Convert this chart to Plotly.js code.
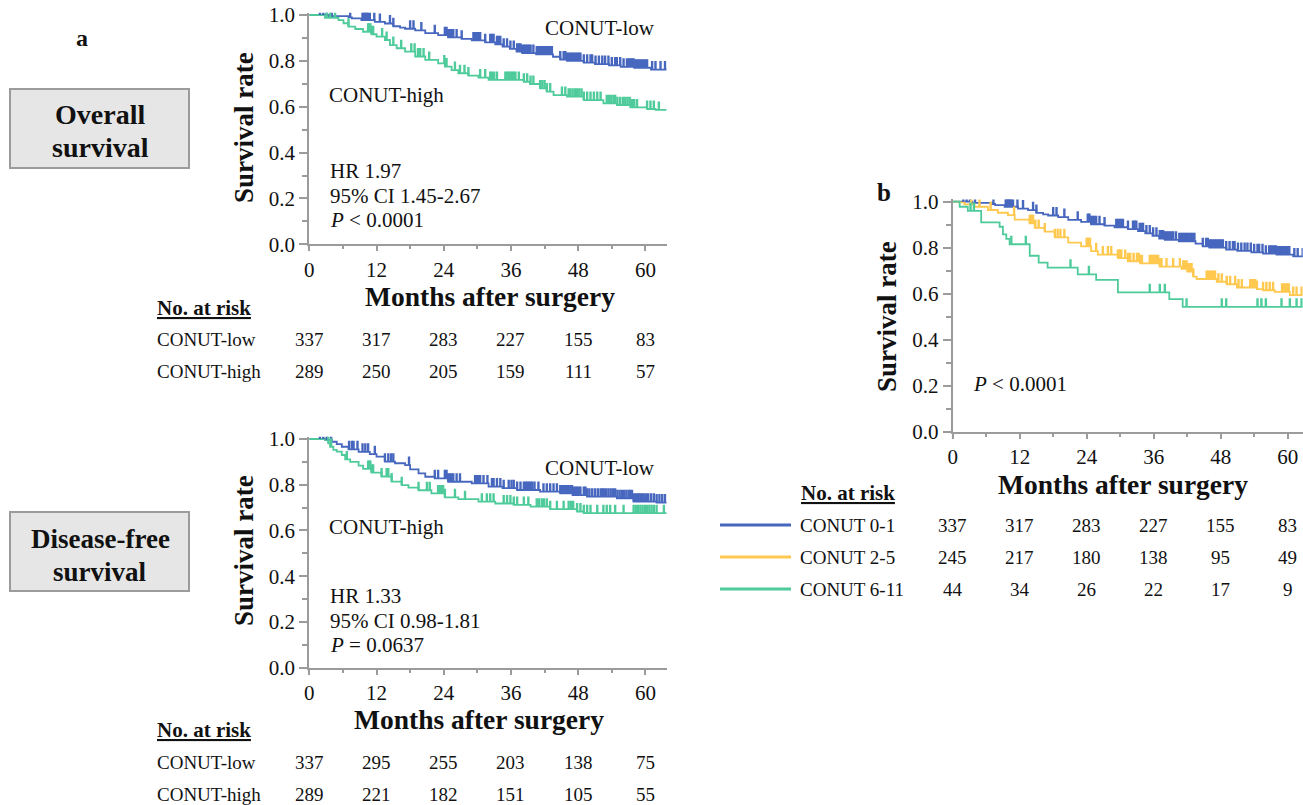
<!DOCTYPE html>
<html>
<head>
<meta charset="utf-8">
<script src="https://cdn.plot.ly/plotly-3.0.1.min.js"></script>
<style>html,body{margin:0;padding:0;background:#fff}#chart{width:1303px;height:805px}</style>
</head>
<body>
<div id="chart"></div>
<script>
// ---------------- DATA ----------------
const months = [0, 12, 24, 36, 48, 60];

// Overall survival, CONUT-low (also CONUT 0-1 in panel b)
const osLowT = [0, 3.5, 7.0, 7.6, 9.3, 11.7, 13.5, 15.0, 16.2, 17.1, 18.9, 20.7, 23.0, 24.8, 27.2, 29.0, 31.4, 33.2, 34.5, 35.8, 37.0, 38.0, 40.5, 43.5, 44.8, 46.0, 49.0, 51.0, 53.5, 55.6, 58.0, 61.0, 63.8];
const osLowS = [1.0, 0.995, 0.99, 0.985, 0.978, 0.97, 0.963, 0.951, 0.945, 0.94, 0.933, 0.921, 0.912, 0.902, 0.896, 0.889, 0.881, 0.872, 0.862, 0.852, 0.84, 0.834, 0.828, 0.818, 0.806, 0.80, 0.792, 0.786, 0.78, 0.774, 0.77, 0.762, 0.762];
const osLowCens = [1.9, 2.5, 3.1, 4.0, 7.3, 9.5, 9.7, 9.9, 10.1, 10.3, 10.5, 10.8, 11.6, 12.6, 14.4, 15.0, 18.0, 18.6, 20.0, 22.4, 24.2, 24.5, 24.8, 25.1, 25.4, 25.7, 26.3, 27.2, 29.3, 29.6, 29.9, 30.2, 30.5, 31.4, 32.3, 32.6, 32.9, 33.5, 33.8, 34.1, 34.7, 35.3, 35.9, 36.5, 37.1, 37.4, 37.7, 38.0, 38.3, 38.6, 38.9, 39.2, 39.5, 40.0, 40.6, 40.9, 41.2, 41.5, 41.8, 42.1, 42.4, 42.7, 43.0, 43.3, 44.8, 45.4, 45.7, 46.0, 46.3, 46.6, 46.9, 47.2, 47.5, 47.8, 48.1, 48.4, 49.0, 49.6, 50.2, 50.5, 51.1, 51.7, 52.3, 52.8, 53.4, 54.0, 54.6, 54.9, 55.5, 56.1, 56.7, 57.0, 57.3, 57.6, 57.9, 58.2, 58.5, 58.8, 59.1, 59.4, 59.7, 60.0, 60.3, 61.2, 61.8, 62.7, 63.5];

// Overall survival, CONUT-high
const osHighT = [0, 2.8, 5.2, 6.1, 7.0, 8.2, 9.6, 11.1, 12.0, 13.5, 14.4, 15.6, 17.1, 18.9, 20.7, 23.0, 24.2, 25.4, 26.6, 28.4, 30.2, 32.0, 38.3, 39.4, 41.2, 42.4, 43.6, 46.0, 49.0, 52.5, 54.9, 57.3, 60.3, 61.8, 63.8];
const osHighS = [1.0, 0.988, 0.978, 0.964, 0.949, 0.939, 0.927, 0.916, 0.906, 0.891, 0.869, 0.855, 0.84, 0.819, 0.804, 0.789, 0.775, 0.76, 0.746, 0.736, 0.727, 0.717, 0.709, 0.699, 0.68, 0.666, 0.651, 0.644, 0.629, 0.615, 0.607, 0.597, 0.59, 0.586, 0.586];
const osHighCens = [3.1, 3.7, 4.6, 7.0, 10.5, 10.7, 10.9, 11.1, 11.4, 13.0, 13.8, 15.0, 16.4, 18.2, 18.8, 19.4, 19.8, 20.4, 21.4, 24.1, 24.3, 24.5, 26.0, 26.9, 27.7, 28.4, 30.5, 31.4, 32.3, 32.6, 33.0, 33.5, 35.0, 35.3, 35.6, 35.9, 36.2, 36.5, 36.8, 37.4, 38.3, 38.9, 39.5, 40.0, 41.2, 41.6, 42.0, 42.4, 43.0, 45.1, 45.7, 46.3, 46.6, 47.0, 47.4, 47.8, 48.2, 48.6, 49.0, 49.6, 50.2, 50.8, 51.4, 52.0, 53.1, 53.5, 53.9, 54.3, 54.6, 55.0, 55.5, 56.0, 56.4, 56.8, 57.2, 57.6, 58.0, 58.5, 60.3, 60.9, 61.5, 62.4];

// Disease-free survival, CONUT-low
const dfsLowT = [0, 2.8, 4.0, 4.9, 5.8, 7.0, 8.8, 10.8, 12.0, 13.5, 15.3, 17.1, 18.0, 19.5, 20.7, 22.4, 24.8, 29.0, 32.0, 34.5, 37.1, 41.2, 44.8, 47.0, 49.6, 54.9, 57.9, 62.0, 63.8];
const dfsLowS = [1.0, 0.996, 0.988, 0.978, 0.966, 0.955, 0.944, 0.934, 0.923, 0.901, 0.894, 0.886, 0.867, 0.85, 0.835, 0.828, 0.813, 0.806, 0.792, 0.785, 0.777, 0.77, 0.762, 0.755, 0.748, 0.741, 0.726, 0.722, 0.722];
const dfsLowCens = [1.9, 2.5, 3.1, 3.9, 7.1, 7.6, 7.9, 8.6, 9.5, 10.0, 10.5, 11.7, 13.5, 14.1, 14.6, 15.0, 17.8, 22.4, 23.0, 24.2, 24.5, 24.8, 25.1, 25.4, 25.7, 26.3, 26.9, 29.6, 29.9, 30.2, 30.5, 31.1, 31.8, 32.6, 32.9, 33.5, 34.1, 34.7, 35.6, 36.1, 36.5, 37.1, 37.7, 38.3, 38.6, 38.9, 39.2, 39.5, 39.8, 40.2, 40.9, 41.8, 42.4, 43.0, 43.6, 44.2, 44.8, 45.1, 45.4, 45.7, 46.0, 46.3, 46.6, 46.9, 47.2, 47.5, 47.8, 48.1, 48.4, 49.0, 49.3, 49.6, 50.0, 50.5, 51.0, 51.5, 52.0, 52.3, 52.6, 53.0, 53.4, 53.8, 54.2, 54.6, 55.0, 55.4, 55.8, 56.2, 56.6, 57.0, 57.3, 57.6, 57.9, 58.2, 58.5, 58.8, 59.1, 59.4, 59.7, 60.1, 60.5, 61.0, 61.5, 62.0, 62.5, 63.0, 63.5];

// Disease-free survival, CONUT-high
const dfsHighT = [0, 2.8, 3.4, 3.7, 4.3, 4.9, 5.8, 6.4, 7.3, 8.8, 9.6, 11.1, 12.9, 14.7, 16.5, 17.7, 19.5, 21.8, 24.2, 26.6, 30.2, 33.2, 36.5, 39.5, 43.0, 47.8, 49.0, 63.8];
const dfsHighS = [1.0, 0.996, 0.981, 0.966, 0.952, 0.945, 0.93, 0.911, 0.90, 0.884, 0.869, 0.853, 0.836, 0.814, 0.798, 0.787, 0.776, 0.762, 0.745, 0.737, 0.726, 0.718, 0.712, 0.704, 0.693, 0.683, 0.676, 0.676];
const dfsHighCens = [3.4, 3.9, 6.7, 10.5, 10.7, 10.9, 11.1, 11.4, 12.9, 13.8, 14.1, 14.7, 16.5, 19.5, 21.0, 21.5, 23.0, 23.3, 23.6, 23.9, 24.2, 26.0, 27.8, 30.8, 31.7, 32.3, 32.9, 34.7, 35.3, 35.9, 36.5, 37.1, 38.3, 39.1, 40.6, 41.0, 41.5, 41.9, 42.4, 43.0, 44.2, 45.4, 46.3, 46.7, 47.1, 47.8, 48.4, 49.0, 49.6, 50.2, 51.4, 52.5, 53.1, 53.7, 54.6, 56.1, 57.9, 58.3, 58.7, 59.1, 59.5, 59.9, 60.3, 60.7, 61.1, 61.5, 62.0, 63.3];

// Panel b, CONUT 2-5
const b25T = [0, 1.0, 2.1, 3.9, 6.3, 8.1, 9.9, 11.1, 13.8, 14.7, 16.5, 18.3, 20.7, 23.0, 24.8, 26.0, 29.6, 31.4, 33.6, 37.1, 41.0, 42.0, 43.1, 43.7, 47.3, 49.1, 50.9, 54.5, 55.6, 57.7, 60.4, 62.7];
const b25S = [1.0, 0.997, 0.988, 0.978, 0.964, 0.952, 0.942, 0.922, 0.906, 0.886, 0.87, 0.845, 0.822, 0.806, 0.785, 0.77, 0.755, 0.741, 0.732, 0.718, 0.708, 0.696, 0.674, 0.664, 0.652, 0.641, 0.627, 0.62, 0.615, 0.608, 0.594, 0.594];
const b25Cens = [3.3, 4.8, 6.8, 11.0, 13.8, 14.0, 14.2, 14.4, 14.8, 15.4, 16.5, 18.3, 18.8, 19.3, 20.0, 24.0, 24.2, 24.4, 24.6, 25.7, 26.9, 27.8, 28.4, 29.6, 29.8, 30.0, 30.2, 30.9, 31.4, 31.8, 32.4, 33.0, 33.3, 33.6, 33.9, 35.3, 35.6, 35.9, 36.2, 36.5, 36.8, 37.1, 37.4, 38.3, 39.5, 40.7, 41.3, 41.6, 41.9, 42.2, 42.5, 42.8, 43.1, 45.5, 45.8, 46.1, 46.4, 46.7, 47.0, 47.6, 48.2, 49.1, 49.7, 50.6, 51.2, 51.8, 53.3, 53.6, 53.9, 54.2, 54.5, 55.6, 56.2, 56.8, 57.4, 59.0, 59.3, 59.6, 59.9, 60.2, 61.0, 61.6, 62.5];

// Panel b, CONUT 6-11
const b611T = [0, 1.25, 2.7, 5.1, 8.4, 9.0, 9.6, 10.2, 13.8, 15.4, 17.0, 22.4, 25.7, 29.6, 38.8, 41.2, 62.7];
const b611S = [1.0, 0.978, 0.96, 0.91, 0.891, 0.858, 0.838, 0.815, 0.765, 0.735, 0.713, 0.684, 0.66, 0.606, 0.576, 0.543, 0.543];
const b611Cens = [3.2, 3.8, 10.5, 13.1, 21.1, 24.4, 35.3, 37.1, 38.0, 41.9, 48.2, 49.0, 54.6, 55.3, 56.1, 58.9, 60.4, 61.6, 62.5];

// Numbers at risk
const osRiskLow = [337, 317, 283, 227, 155, 83];
const osRiskHigh = [289, 250, 205, 159, 111, 57];
const dfsRiskLow = [337, 295, 255, 203, 138, 75];
const dfsRiskHigh = [289, 221, 182, 151, 105, 55];
const bRisk01 = [337, 317, 283, 227, 155, 83];
const bRisk25 = [245, 217, 180, 138, 95, 49];
const bRisk611 = [44, 34, 26, 22, 17, 9];

const groupsA = ['CONUT-low', 'CONUT-high'];
const groupsB = ['CONUT 0-1', 'CONUT 2-5', 'CONUT 6-11'];

// ---------------- STYLE / LAYOUT ----------------
const W = 1303, H = 805;
const SERIF = 'Liberation Serif, Times New Roman, serif';
const BLUE = '#4767BF', GREEN = '#4FCB9B', YELLOW = '#FFC84F';
const AX = '#9b9b9b', TXT = '#111111';
const px = x => x / W;
const py = y => 1 - y / H;

function stepAt(T, S, t) {
  let v = S[0];
  for (let i = 0; i < T.length; i++) { if (T[i] <= t) v = S[i]; else break; }
  return v;
}

function curve(T, S, color, xa, ya, name) {
  return {type: 'scatter', mode: 'lines', x: T, y: S, xaxis: xa, yaxis: ya, name: name,
    line: {shape: 'hv', color: color, width: 1.8}, hoverinfo: 'skip', showlegend: false};
}
function censors(T, S, C, color, xa, ya, name) {
  return {type: 'scatter', mode: 'markers', x: C, y: C.map(t => stepAt(T, S, t)), xaxis: xa, yaxis: ya, name: name,
    marker: {size: 1, color: color, opacity: 0},
    error_y: {type: 'constant', symmetric: false, value: 0.037, valueminus: 0, width: 0, thickness: 2.4, color: color},
    hoverinfo: 'skip', showlegend: false};
}

const traces = [
  curve(osLowT, osLowS, BLUE, 'x', 'y', groupsA[0]),
  curve(osHighT, osHighS, GREEN, 'x', 'y', groupsA[1]),
  censors(osLowT, osLowS, osLowCens, BLUE, 'x', 'y', groupsA[0]),
  censors(osHighT, osHighS, osHighCens, GREEN, 'x', 'y', groupsA[1]),
  curve(dfsLowT, dfsLowS, BLUE, 'x2', 'y2', groupsA[0]),
  curve(dfsHighT, dfsHighS, GREEN, 'x2', 'y2', groupsA[1]),
  censors(dfsLowT, dfsLowS, dfsLowCens, BLUE, 'x2', 'y2', groupsA[0]),
  censors(dfsHighT, dfsHighS, dfsHighCens, GREEN, 'x2', 'y2', groupsA[1]),
  curve(osLowT, osLowS, BLUE, 'x3', 'y3', groupsB[0]),
  curve(b25T, b25S, YELLOW, 'x3', 'y3', groupsB[1]),
  curve(b611T, b611S, GREEN, 'x3', 'y3', groupsB[2]),
  censors(osLowT, osLowS, osLowCens, BLUE, 'x3', 'y3', groupsB[0]),
  censors(b25T, b25S, b25Cens, YELLOW, 'x3', 'y3', groupsB[1]),
  censors(b611T, b611S, b611Cens, GREEN, 'x3', 'y3', groupsB[2])
];

const tickFont = {family: SERIF, size: 21, color: TXT};
function xAxis(left, right, xmax, anchor) {
  return {domain: [px(left), px(right)], range: [0, xmax], anchor: anchor,
    showline: true, linecolor: AX, linewidth: 2, ticks: 'outside', ticklen: 5, tickwidth: 2, tickcolor: AX,
    tick0: 0, dtick: 12, minor: {dtick: 6, ticks: 'outside', ticklen: 3, tickwidth: 2, tickcolor: AX},
    showgrid: false, zeroline: false, tickfont: tickFont, fixedrange: true};
}
const YTOP = 1.01;
function yAxis(y0px, y1px, anchor) { // y0px: pixel row of 0.0, y1px: pixel row of 1.0
  const top = y0px - (y0px - y1px) * YTOP;
  return {domain: [py(y0px), py(top)], range: [0, YTOP], anchor: anchor,
    showline: true, linecolor: AX, linewidth: 2, ticks: 'outside', ticklen: 8, tickwidth: 2, tickcolor: AX,
    tick0: 0, dtick: 0.2, tickformat: '.1f', minor: {dtick: 0.1, ticks: 'outside', ticklen: 5, tickwidth: 2, tickcolor: AX},
    showgrid: false, zeroline: false, tickfont: tickFont, fixedrange: true};
}

const ann = [];
function txt(text, x, y, size, opts) {
  ann.push(Object.assign({text: text, x: px(x), y: py(y), xref: 'paper', yref: 'paper', showarrow: false,
    xanchor: 'left', yanchor: 'middle', font: {family: SERIF, size: size, color: TXT}}, opts || {}));
}
function center(text, x, y, size, opts) { txt(text, x, y, size, Object.assign({xanchor: 'center'}, opts || {})); }

// panel labels
center('<b>a</b>', 82, 38, 24);
center('<b>b</b>', 884, 192, 25);
// boxes
center('<b>Overall</b>', 100, 115, 28);
center('<b>survival</b>', 100, 148, 28);
center('<b>Disease-free</b>', 100, 539, 27);
center('<b>survival</b>', 100, 572, 27);

// axis titles
function axisTitles(xc, yc, ytx, yty) {
  center('<b>Months after surgery</b>', xc, yc, 27.5);
  center('<b>Survival rate</b>', ytx, yty, 27, {textangle: -90});
}
axisTitles(490, 297, 244, 128);
axisTitles(479, 719, 244, 551);
axisTitles(1123, 484, 887, 317);

// in-plot labels
center(groupsA[0], 600, 28, 21);
center(groupsA[1], 386, 95, 21);
txt('HR 1.97', 328, 171, 21);
txt('95% CI 1.45-2.67', 328, 196, 21);
txt('<i>P</i> < 0.0001', 328, 220, 21);
center(groupsA[0], 600, 468, 21);
center(groupsA[1], 386, 527, 21);
txt('HR 1.33', 328, 596, 21);
txt('95% CI 0.98-1.81', 328, 621, 21);
txt('<i>P</i> = 0.0637', 328, 645, 21);
txt('<i>P</i> < 0.0001', 971, 384, 21);

// numbers at risk tables
function riskRow(label, labelX, y, values, xref) {
  txt(label, labelX, y, 19);
  values.forEach((v, i) => ann.push({text: String(v), x: months[i], xref: xref, y: py(y), yref: 'paper',
    showarrow: false, xanchor: 'center', yanchor: 'middle', font: {family: SERIF, size: 19, color: TXT}}));
}
txt('<b><u>No. at risk</u></b>', 155, 308, 21);
riskRow(groupsA[0], 155, 339, osRiskLow, 'x');
riskRow(groupsA[1], 155, 371, osRiskHigh, 'x');
txt('<b><u>No. at risk</u></b>', 155, 730, 21);
riskRow(groupsA[0], 155, 762, dfsRiskLow, 'x2');
riskRow(groupsA[1], 155, 794, dfsRiskHigh, 'x2');
txt('<b><u>No. at risk</u></b>', 799, 493, 21);
riskRow(groupsB[0], 798, 525, bRisk01, 'x3');
riskRow(groupsB[1], 798, 557, bRisk25, 'x3');
riskRow(groupsB[2], 798, 589, bRisk611, 'x3');

const shapes = [
  {type: 'rect', xref: 'paper', yref: 'paper', x0: px(10), x1: px(189), y0: py(89), y1: py(168), fillcolor: '#e6e6e6', line: {color: AX, width: 2}, layer: 'below'},
  {type: 'rect', xref: 'paper', yref: 'paper', x0: px(10), x1: px(189), y0: py(512), y1: py(591), fillcolor: '#e6e6e6', line: {color: AX, width: 2}, layer: 'below'}
];
[[525, BLUE], [557, YELLOW], [589, GREEN]].forEach(([y, c]) => shapes.push(
  {type: 'line', xref: 'paper', yref: 'paper', x0: px(720), x1: px(791), y0: py(y), y1: py(y), line: {color: c, width: 3}}));

const layout = {
  width: W, height: H, margin: {l: 0, r: 0, t: 0, b: 0}, paper_bgcolor: '#ffffff', plot_bgcolor: 'rgba(0,0,0,0)',
  showlegend: false, font: {family: SERIF, color: TXT},
  xaxis: xAxis(309.3, 666.7, 63.8, 'y'),
  yaxis: yAxis(244.3, 15, 'x'),
  xaxis2: xAxis(309.3, 666.7, 63.8, 'y2'),
  yaxis2: yAxis(667.7, 439, 'x2'),
  xaxis3: xAxis(952.7, 1302.7, 62.7, 'y3'),
  yaxis3: yAxis(431.7, 201.7, 'x3'),
  annotations: ann, shapes: shapes
};

Plotly.newPlot('chart', traces, layout, {staticPlot: true, displayModeBar: false});
</script>
</body>
</html>
